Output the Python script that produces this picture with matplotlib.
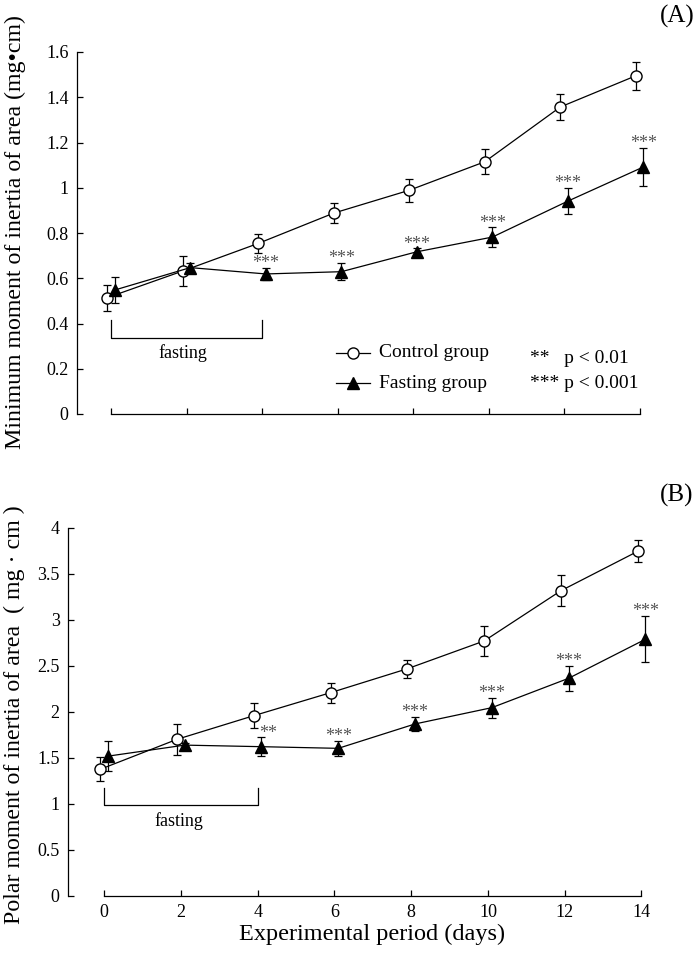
import matplotlib
matplotlib.use("Agg")
import matplotlib.pyplot as plt
import numpy as np

plt.rcParams['font.family'] = ['Liberation Serif', 'DejaVu Serif']

days = [0, 2, 4, 6, 8, 10, 12, 14]

# Panel A: minimum moment of inertia of area
a_ctrl = [0.514, 0.632, 0.754, 0.888, 0.989, 1.115, 1.357, 1.495]
a_ctrl_err = [0.057, 0.067, 0.042, 0.043, 0.050, 0.056, 0.059, 0.062]
a_fast = [0.548, 0.647, 0.619, 0.629, 0.717, 0.782, 0.941, 1.092]
a_fast_err = [0.056, 0.020, 0.025, 0.038, 0.015, 0.043, 0.057, 0.085]
a_sig = ['', '', '***', '***', '***', '***', '***', '***']

# Panel B: polar moment of inertia of area
b_ctrl = [1.377, 1.703, 1.960, 2.210, 2.470, 2.772, 3.318, 3.746]
b_ctrl_err = [0.13, 0.17, 0.135, 0.11, 0.10, 0.16, 0.17, 0.12]
b_fast = [1.520, 1.640, 1.623, 1.605, 1.870, 2.047, 2.366, 2.790]
b_fast_err = [0.16, 0.02, 0.10, 0.08, 0.08, 0.11, 0.135, 0.25]
b_sig = ['', '', '**', '***', '***', '***', '***', '***']

W, H = 697, 956
fig = plt.figure(figsize=(W / 100, H / 100), dpi=100)

def px_axes(left, top, right, bottom):
    return fig.add_axes([left / W, 1 - bottom / H, (right - left) / W, (bottom - top) / H])

axA = px_axes(77, 52, 651, 414)
axB = px_axes(68, 528, 653, 896)

def draw(ax, ctrl, cerr, fast, ferr, sig, ymax, ystep, xl, bracket_y, show_xt):
    x = np.array(days, dtype=float)
    ax.errorbar(x - 0.1, ctrl, yerr=cerr, fmt='-o', color='black', mfc='white', mec='black',
                ms=8, lw=0.9, elinewidth=0.9, capsize=3, capthick=0.9, zorder=3)
    ax.errorbar(x + 0.1, fast, yerr=ferr, fmt='-^', color='black', mfc='black', mec='black',
                ms=8.5, lw=0.9, elinewidth=0.9, capsize=3, capthick=0.9, zorder=3)
    for xi, yi, ei, s in zip(x, fast, ferr, sig):
        if s:
            dx = 5 if len(s) == 2 else 0
            ax.annotate(s, (xi + 0.1, yi + ei), xytext=(dx, -3), textcoords='offset points',
                        ha='center', va='bottom', fontsize=13, color='#555555')
    ax.set_xlim(xl, 14.3)
    ax.set_ylim(0, ymax)
    ax.spines['top'].set_visible(False)
    ax.spines['right'].set_visible(False)
    ax.spines['bottom'].set_bounds(0, 14)
    ax.spines['left'].set_bounds(0, ymax)
    for s in ('bottom', 'left'):
        ax.spines[s].set_linewidth(0.9)
    ax.set_xticks(days)
    yt = np.arange(0, ymax + 1e-9, ystep)
    ax.set_yticks(yt)
    ax.set_yticklabels([('%g' % v) for v in yt])
    ax.tick_params(direction='in', length=4, width=0.9, labelsize=13, pad=6)
    if not show_xt:
        ax.set_xticklabels([])
    # fasting bracket
    y0, y1 = bracket_y
    ax.plot([0, 0, 4, 4], [y1, y0, y0, y1], color='black', lw=0.9)

draw(axA, a_ctrl, a_ctrl_err, a_fast, a_fast_err, a_sig, 1.6, 0.2, -0.9, (0.336, 0.415), False)
draw(axB, b_ctrl, b_ctrl_err, b_fast, b_fast_err, b_sig, 4.0, 0.5, -0.94, (0.99, 1.17), True)

axA.text(1.9, 0.27, 'fasting', ha='center', va='center', fontsize=13)
axB.text(1.95, 0.81, 'fasting', ha='center', va='center', fontsize=13)

# legend in panel A
axA.plot([5.95, 6.85], [0.27, 0.27], color='black', lw=0.9)
axA.plot([6.4], [0.27], 'o', mfc='white', mec='black', ms=8)
axA.plot([5.95, 6.85], [0.137, 0.137], color='black', lw=0.9)
axA.plot([6.4], [0.137], '^', color='black', ms=8.5)
axA.text(7.1, 0.27, 'Control group', va='center', fontsize=14)
axA.text(7.1, 0.137, 'Fasting group', va='center', fontsize=14)
axA.text(11.1, 0.245, '**   p < 0.01', va='center', fontsize=14)
axA.text(11.1, 0.137, '*** p < 0.001', va='center', fontsize=14)

axB.set_xlabel('Experimental period (days)', fontsize=17.5)
axB.xaxis.set_label_coords((372 - 68) / 585, -0.075)

fig.text(15 / W, 1 - 232 / H, 'Minimum moment of inertia of area (mg\u2022cm)', rotation=90,
         ha='center', va='center', fontsize=17.2)
fig.text(14 / W, 1 - 715 / H, 'Polar moment of inertia of area  ( mg \u00b7 cm )', rotation=90,
         ha='center', va='center', fontsize=17.2)

fig.text(677 / W, 1 - 16 / H, '(A)', ha='center', va='center', fontsize=18)
fig.text(677 / W, 1 - 495 / H, '(B)', ha='center', va='center', fontsize=18)

fig.savefig('out.png', dpi=100)
